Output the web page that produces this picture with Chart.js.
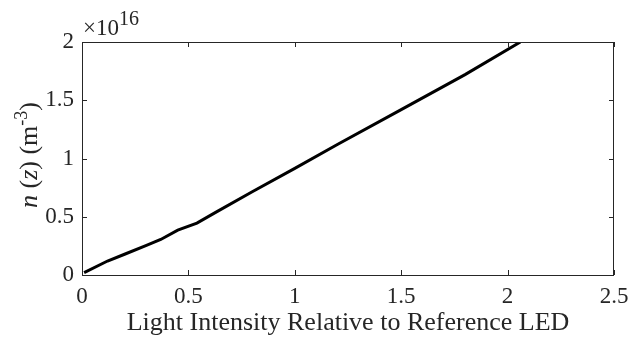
<!DOCTYPE html>
<html>
<head>
<meta charset="utf-8">
<script src="https://cdn.jsdelivr.net/npm/chart.js@4.4.1/dist/chart.umd.min.js"></script>
<style>
  html, body { margin: 0; padding: 0; background: #fff; }
  canvas { display: block; }
</style>
</head>
<body>
<canvas id="chart" width="629" height="339"></canvas>
<script>
// light intensity (relative to reference LED) and n(z) in units of 1e16 m^-3
const intensity = [0.01, 0.12, 0.2, 0.3, 0.37, 0.45, 0.54, 0.63, 0.8, 1.0, 1.2, 1.5, 1.8, 2.06]
const density = [0.02, 0.12, 0.178, 0.252, 0.305, 0.385, 0.445, 0.54, 0.715, 0.915, 1.12, 1.42, 1.72, 2.0]

const xTicks = [0, 0.5, 1, 1.5, 2, 2.5]
const yTicks = [0, 0.5, 1, 1.5, 2]

const axisColor = '#262626'
const serif = "'Liberation Serif', 'Times New Roman', serif"

// box around the plot, inward ticks, y title and the exponent
const matlabFrame = {
  id: 'matlabFrame',
  afterDraw(chart) {
    const { ctx, chartArea: a, scales } = chart
    ctx.save()
    ctx.strokeStyle = axisColor
    ctx.lineWidth = 1
    ctx.strokeRect(a.left + 0.5, a.top + 0.5, a.right - a.left - 1, a.bottom - a.top)

    const tl = 5
    ctx.beginPath()
    xTicks.forEach(v => {
      const px = Math.round(scales.x.getPixelForValue(v)) + 0.5
      ctx.moveTo(px, a.bottom)
      ctx.lineTo(px, a.bottom - tl)
      ctx.moveTo(px, a.top)
      ctx.lineTo(px, a.top + tl)
    })
    yTicks.forEach(v => {
      const py = Math.round(scales.y.getPixelForValue(v)) + 0.5
      ctx.moveTo(a.left, py)
      ctx.lineTo(a.left + tl, py)
      ctx.moveTo(a.right, py)
      ctx.lineTo(a.right - tl, py)
    })
    ctx.stroke()

    // exponent
    ctx.fillStyle = axisColor
    ctx.textBaseline = 'alphabetic'
    ctx.textAlign = 'left'
    ctx.font = `23px ${serif}`
    ctx.fillText('\u00d710', 83, 35)
    const w = ctx.measureText('\u00d710').width
    ctx.font = `20px ${serif}`
    ctx.fillText('16', 83 + w, 25)

    // y title, rotated
    const parts = [
      { t: 'n', f: `italic 26px ${serif}`, dy: 0 },
      { t: ' (', f: `26px ${serif}`, dy: 0 },
      { t: 'z', f: `italic 26px ${serif}`, dy: 0 },
      { t: ') (m', f: `26px ${serif}`, dy: 0 },
      { t: '-3', f: `18px ${serif}`, dy: -10 },
      { t: ')', f: `26px ${serif}`, dy: 0 },
    ]
    let total = 0
    parts.forEach(p => {
      ctx.font = p.f
      p.w = ctx.measureText(p.t).width
      total += p.w
    })
    ctx.translate(37, 155)
    ctx.rotate(-Math.PI / 2)
    let x = -total / 2
    parts.forEach(p => {
      ctx.font = p.f
      ctx.fillText(p.t, x, p.dy)
      x += p.w
    })
    ctx.setTransform(1, 0, 0, 1, 0, 0)

    // x title
    ctx.font = `26px ${serif}`
    ctx.textAlign = 'center'
    ctx.fillText('Light Intensity Relative to Reference LED', (a.left + a.right) / 2, 330)
    ctx.restore()
  },
}

new Chart(document.getElementById('chart'), {
  type: 'scatter',
  data: {
    datasets: [
      {
        data: intensity.map((v, i) => ({ x: v, y: density[i] })),
        showLine: true,
        borderColor: '#000',
        borderWidth: 3,
        pointRadius: 0,
        fill: false,
        tension: 0,
      },
    ],
  },
  options: {
    responsive: false,
    animation: false,
    layout: { padding: { left: 0, top: 42, right: 15, bottom: 0 } },
    plugins: {
      legend: { display: false },
      tooltip: { enabled: false },
    },
    scales: {
      x: {
        type: 'linear',
        min: 0,
        max: 2.5,
        afterFit: scale => {
          scale.height = 64
          scale.paddingLeft = 0
          scale.paddingRight = 0
        },
        afterBuildTicks: scale => { scale.ticks = xTicks.map(v => ({ value: v })) },
        grid: { display: false, drawTicks: false },
        border: { display: false },
        ticks: {
          padding: 8,
          color: axisColor,
          font: { family: serif, size: 23 },
          maxRotation: 0,
          autoSkip: false,
          callback: v => String(v),
        },
      },
      y: {
        type: 'linear',
        min: 0,
        max: 2,
        afterFit: scale => {
          scale.width = 82
          scale.paddingTop = 0
          scale.paddingBottom = 0
        },
        afterBuildTicks: scale => { scale.ticks = yTicks.map(v => ({ value: v })) },
        grid: { display: false, drawTicks: false },
        border: { display: false },
        ticks: {
          padding: 8,
          color: axisColor,
          font: { family: serif, size: 23 },
          autoSkip: false,
          callback: v => String(v),
        },
      },
    },
  },
  plugins: [matlabFrame],
})
</script>
</body>
</html>
